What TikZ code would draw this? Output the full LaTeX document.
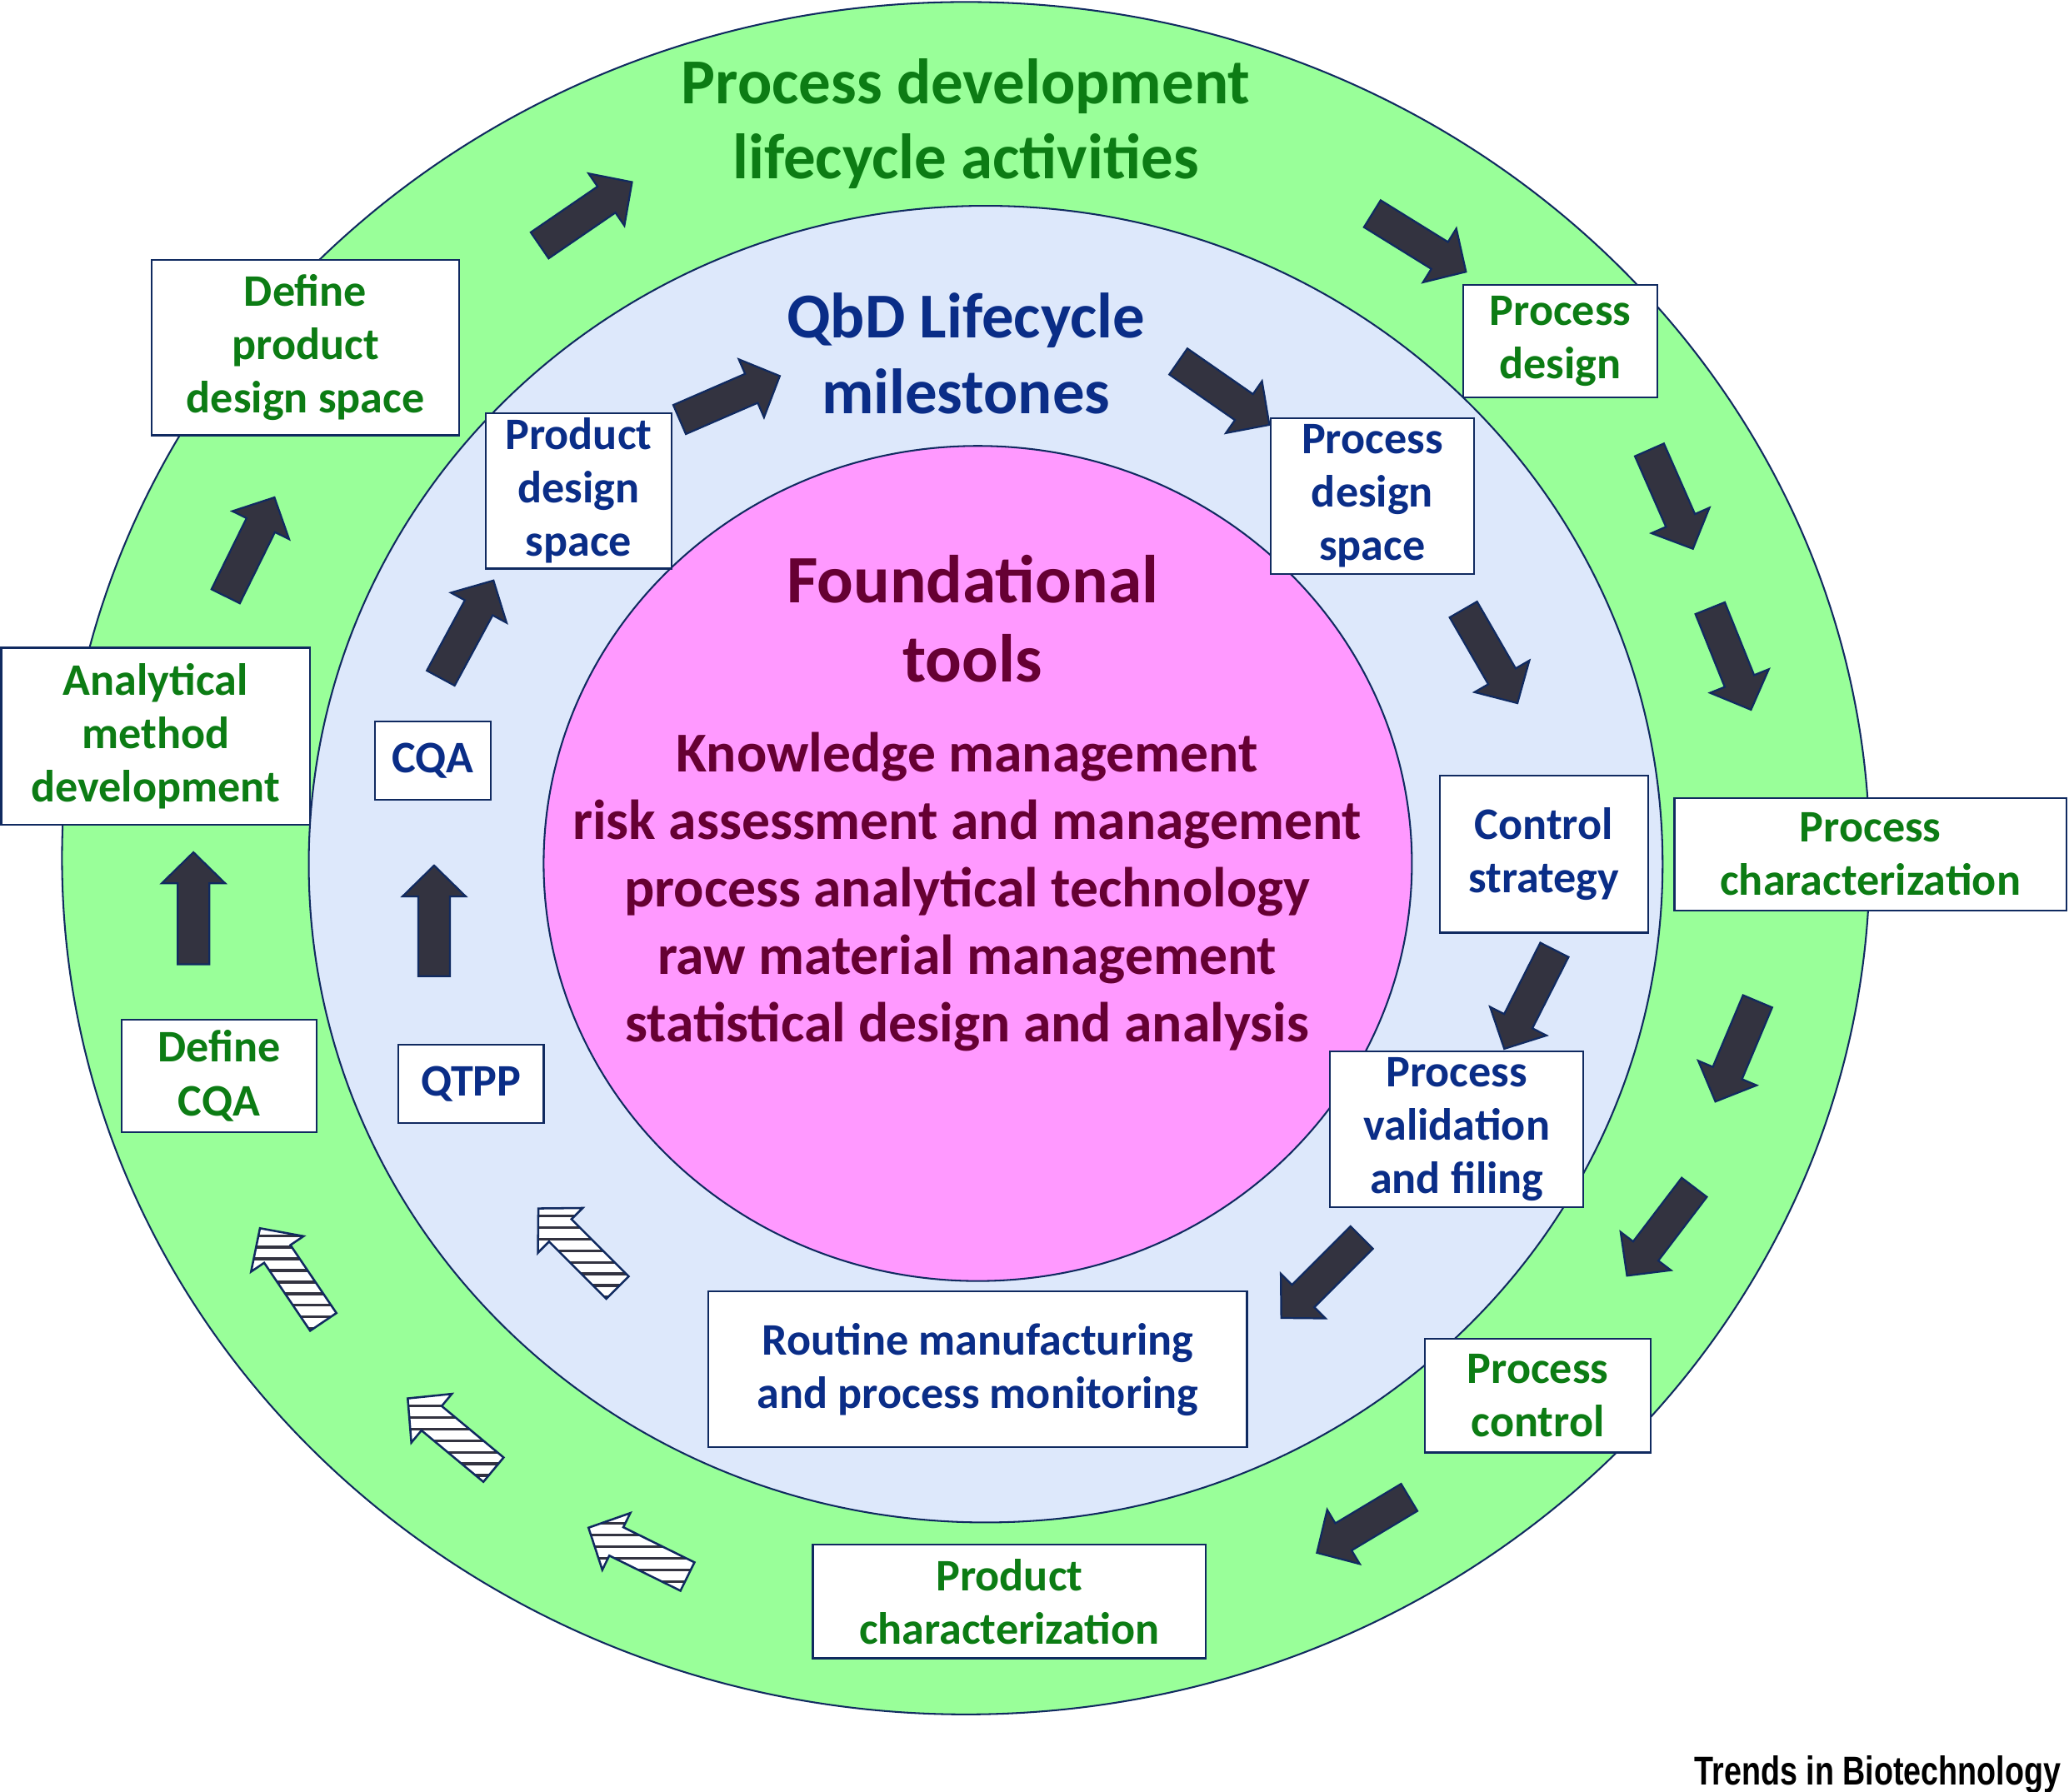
\documentclass[tikz,border=0pt]{standalone}
\usepackage{fontspec}
\setmainfont{Carlito}
\newfontfamily\trendsfont[FakeStretch=0.78]{Liberation Sans}
\usetikzlibrary{calc}

\definecolor{ringgreen}{RGB}{153,255,153}
\definecolor{ringblue}{RGB}{221,232,251}
\definecolor{corepink}{RGB}{255,153,255}
\definecolor{ringline}{RGB}{16,42,96}
\definecolor{actgreen}{RGB}{12,124,20}
\definecolor{milestoneblue}{RGB}{10,45,135}
\definecolor{toolmaroon}{RGB}{102,0,51}
\definecolor{arrowfill}{RGB}{51,51,64}

\newcommand\lblfont{\bfseries\fontsize{34.2}{40.5}\selectfont}

% Outline of a block arrow from tail #1 to tip #2 (needs coordinate hb).
\newcommand\arrowoutline[2]{%
  ($(#1)!12pt!90:(#2)$) -- ($(hb)!12pt!90:(#2)$) -- ($(hb)!24pt!90:(#2)$)
  -- (#2) -- ($(hb)!24pt!-90:(#2)$) -- ($(hb)!12pt!-90:(#2)$)
  -- ($(#1)!12pt!-90:(#2)$) -- cycle}

\newcommand\solidarrow[2]{%
  \coordinate (hb) at ($(#2)!23.5pt!(#1)$);
  \filldraw[solid arrow] \arrowoutline{#1}{#2};}

\newcommand\hatchedarrow[2]{%
  \coordinate (hb) at ($(#2)!23.5pt!(#1)$);
  \fill[white] \arrowoutline{#1}{#2};
  \begin{scope}
    \clip \arrowoutline{#1}{#2};
    \foreach \k in {-100,-91.2,...,100}
      \draw[hatch line] ($(#2)+(-100,\k)$) -- ($(#2)+(100,\k)$);
  \end{scope}
  \draw[hatched arrow] \arrowoutline{#1}{#2};}

\tikzset{
  % For the three rings.
  ring/.style={
    draw=ringline,
    line width=1.3pt},
%
  % For activity boxes on the outer ring.
  activity/.style={
    draw=ringline,
    fill=white,
    line width=1.4pt,
    text=actgreen,
    font=\lblfont,
    align=center,
    inner sep=0pt},
%
  % For milestone boxes on the inner ring.
  milestone/.style={
    activity,
    text=milestoneblue},
%
  % For the dark block arrows.
  solid arrow/.style={
    fill=arrowfill,
    draw=ringline,
    line width=1.4pt,
    line join=miter},
%
  % For the striped block arrows.
  hatched arrow/.style={
    draw=ringline,
    line width=1.6pt,
    line join=miter},
  hatch line/.style={
    draw=arrowfill,
    line width=2.1pt},
%
  % For the ring titles.
  title/.style 2 args={
    font=\bfseries\fontsize{#1}{#2}\selectfont,
    align=center},
}

\begin{document}
\begin{tikzpicture}[x=1pt, y=-1pt]
  \path[fill=white, use as bounding box] (0,0) rectangle (1568,1358);

  \path[ring, fill=ringgreen] (732,650.5) ellipse [x radius=685, y radius=649];
  \path[ring, fill=ringblue] (747,655) ellipse [x radius=513, y radius=499];
  \path[ring, fill=corepink] (741,654.5) ellipse [x radius=329, y radius=316.5];

  \node[title={48.6}{57}, text=actgreen] (devtitle) at (732,94)
    {Process development\\lifecycle activities};
  \node[title={48.5}{58}, text=milestoneblue] (qbdtitle) at (732,268)
    {QbD Lifecycle\\milestones};
  \node[title={51.4}{60}, text=toolmaroon] (fndtitle) at (737,469)
    {Foundational\\tools};
  \node[title={42.7}{51.3}, text=toolmaroon] (fndlist) at (733,676)
    {Knowledge management\\risk assessment and management\\
     process analytical technology\\raw material management\\
     statistical design and analysis};

  % outer ring, solid
  \solidarrow{409,186}{479,138}
  \solidarrow{1040,162}{1111,206}
  \solidarrow{1250,341}{1283,416}
  \solidarrow{1296,461}{1327,538}
  \solidarrow{1332,759}{1300,835}
  \solidarrow{1284,900}{1233,967}
  \solidarrow{1068,1135}{998,1177}
  \solidarrow{146.6,731}{146.6,646}
  \solidarrow{171,452}{208,377}
  % outer ring, hatched
  \hatchedarrow{521,1195}{446,1158}
  \hatchedarrow{374,1114}{309,1060}
  \hatchedarrow{245,1002}{197,931}
  % inner ring, solid
  \solidarrow{515,318}{591,285}
  \solidarrow{893,274}{962,322}
  \solidarrow{1109,462}{1150,533}
  \solidarrow{1178,720}{1140,795}
  \solidarrow{1032,938}{971,999}
  \solidarrow{329,740}{329,656}
  \solidarrow{334,514}{374,440}
  % inner ring, hatched
  \hatchedarrow{468,976}{408,916}

  % activities
  \node[activity, minimum width=233pt, minimum height=133pt] (defpds) at (231.5,263.5)
    {Define\\product\\design space};
  \node[activity, minimum width=234pt, minimum height=134pt] (amd) at (118,558)
    {Analytical\\method\\development\hspace{8pt}};
  \node[activity, minimum width=148pt, minimum height=85pt] (defcqa) at (166,815.5)
    {Define\\CQA};
  \node[activity, minimum width=147pt, minimum height=85pt] (pdes) at (1182.5,258.5)
    {Process\\design};
  \node[activity, minimum width=297pt, minimum height=85pt] (pchar) at (1417.5,647.5)
    {Process\\characterization};
  \node[activity, minimum width=171pt, minimum height=86pt] (pctrl) at (1165.5,1058)
    {Process\\control};
  \node[activity, minimum width=298pt, minimum height=86pt] (prodchar) at (765,1214)
    {Product\\characterization};

  % milestones
  \node[milestone, minimum width=141pt, minimum height=118pt] (pds) at (438.5,372)
    {Product\\design\\space};
  \node[milestone, minimum width=88pt, minimum height=59pt] (cqa) at (328,576.5)
    {CQA};
  \node[milestone, minimum width=110pt, minimum height=59pt] (qtpp) at (357,821.5)
    {QTPP};
  \node[milestone, minimum width=154pt, minimum height=118pt] (prds) at (1040,376)
    {Process\\design\\space};
  \node[milestone, minimum width=158pt, minimum height=119pt] (cstrat) at (1170,647.5)
    {Control\\strategy};
  \node[milestone, minimum width=192pt, minimum height=118pt] (pval) at (1104,856)
    {Process\\validation\\and filing};
  \node[milestone, minimum width=408pt, minimum height=118pt] (routine) at (741,1038)
    {Routine manufacturing\\and process monitoring};

  \node[anchor=base east, font=\trendsfont\bfseries\fontsize{30.5}{32}\selectfont,
        inner sep=0pt] (journal) at (1562,1353) {Trends in Biotechnology};
\end{tikzpicture}
\end{document}
